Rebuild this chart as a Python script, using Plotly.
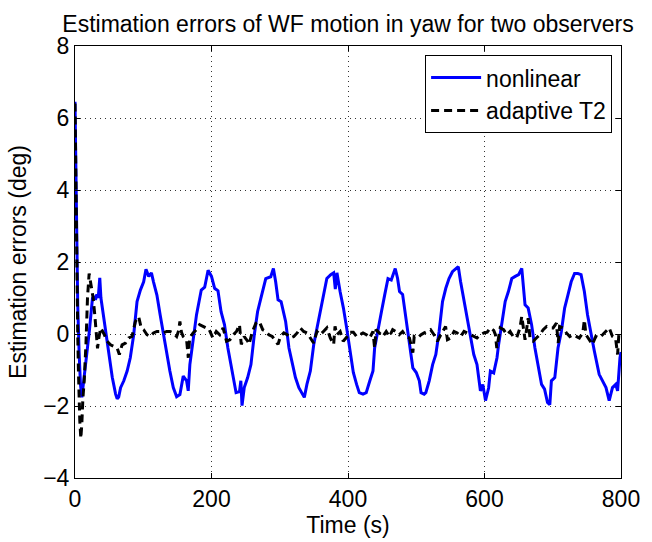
import plotly.graph_objects as go

# ---- data ----
t_nonlinear = [0, 1, 2, 3, 4, 6, 8, 10, 13, 16, 21, 25.6, 28, 30, 32, 34, 36.3, 38, 41, 45,
               50, 54.6, 59.5, 61.8, 64, 66.8, 71.5, 76.4, 81, 86, 90.9, 95.8, 100.6, 104, 108,
               112, 115, 120, 124.8, 129.6, 134.4, 139, 144, 148.9, 153.7, 158.6, 163.5, 165.9,
               168.3, 173, 178, 185, 190, 195, 200, 204.6, 209.5, 214, 219, 224, 228.7, 232.7,
               236, 241, 243, 244.7, 248, 253, 257.8, 262.7, 267.5, 272.3, 279.5, 286.8, 290.7,
               294, 297.5, 302, 308.6, 313.5, 318.3, 323, 328, 332.8, 336, 339.8, 344.8, 349.8,
               354.6, 359.4, 364.3, 369, 374.7, 379, 381.4, 383.8, 388.4, 393.3, 398, 403, 407.8,
               412.6, 416.5, 422, 426.7, 432, 436.6, 439, 444, 449, 453.7, 458.6, 463.4, 466,
               469.2, 472.6, 475.5, 480, 485.2, 490, 495, 500, 504.5, 507, 511.6, 514, 519, 524,
               528.7, 533.5, 538.5, 543.3, 548, 553, 557.8, 561.6, 565, 570, 574.7, 579.5, 584.3,
               589, 594, 597.5, 601.5, 606, 608.6, 613.5, 618.3, 620.7, 625.5, 630.3, 635, 640,
               645, 650, 654.6, 657, 659.4, 664, 669, 673.9, 678.7, 683.6, 688, 692.3, 695.7, 698,
               703, 707.7, 712.6, 717.4, 722.2, 727, 732, 736.7, 741.5, 746.3, 751, 756, 761, 768,
               773, 778, 782.7, 787.5, 792.3, 795, 798.5, 800]
v_nonlinear = [6.45, 4.6, 2.6, 1.5, 0.8, -0.5, -1.4, -1.76, -1.3, -0.85, 0.08, 0.99, 1.05, 0.95,
               1.1, 1.0, 1.56, 1.0, 0.6, 0.07, -0.66, -1.2, -1.67, -1.8, -1.75, -1.49, -1.3, -1.03,
               -0.66, -0.02, 0.9, 1.22, 1.45, 1.8, 1.6, 1.7, 1.45, 1.08, 0.53, -0.02, -0.57, -1.03,
               -1.49, -1.74, -1.68, -1.17, -1.3, -1.58, -0.85, -0.2, 0.53, 1.22, 1.3, 1.77, 1.6,
               1.27, 1.2, 0.62, 0.26, -0.39, -0.85, -1.3, -1.63, -1.6, -1.3, -1.99, -1.49, -1.21,
               -0.85, -0.02, 0.62, 0.99, 1.54, 1.59, 1.82, 1.45, 0.95, 0.9, 0.35, -0.39, -0.85,
               -1.21, -1.49, -1.67, -1.76, -1.4, -1.03, -0.29, 0.17, 0.62, 1.18, 1.54, 1.65, 1.7,
               1.25, 1.7, 1.18, 0.72, 0.17, -0.4, -1.07, -1.4, -1.63, -1.67, -1.63, -1.3, -1.03,
               -0.39, 0.07, 0.62, 1.08, 1.54, 1.5, 1.65, 1.82, 1.55, 1.18, 1.1, 0.35, -0.2, -0.94,
               -1.07, -1.3, -1.63, -1.67, -1.63, -1.3, -0.85, -0.57, 0.07, 0.9, 1.27, 1.54, 1.73,
               1.82, 1.87, 1.45, 0.9, 0.44, -0.02, -0.57, -0.85, -1.58, -1.4, -1.85, -1.5, -1.03,
               -1.08, -0.66, -0.29, 0.26, 0.9, 1.18, 1.54, 1.6, 1.65, 1.82, 1.25, 0.81, 0.72, 0.26,
               -0.39, -0.94, -1.4, -1.53, -1.9, -1.96, -1.3, -1.21, -0.39, 0.07, 0.72, 1.08, 1.45,
               1.68, 1.68, 1.65, 1.18, 0.53, -0.02, -0.48, -1.12, -1.3, -1.49, -1.85, -1.49, -1.4,
               -1.58, -0.66, -0.5]

t_adaptive = [0, 1, 2, 3, 4, 5, 6, 7, 8.5, 10, 11.5, 13.5, 16, 18.3, 20.7, 23, 26.6, 29, 31.4,
              33, 35, 37.7, 42.5, 47, 52, 57, 61.8, 65, 69, 74, 78.6, 83.5, 88.5, 93.3, 97, 100.6,
              105.5, 110, 115, 120, 125, 129.5, 134.4, 139, 144, 149, 152, 153.7, 156, 158.6,
              163.5, 166, 168, 173, 178, 182.6, 187.5, 192, 196, 202, 207, 212, 217, 222, 227,
              232, 236.6, 241, 243.6, 248, 253, 255, 260, 265, 270, 275, 280, 284, 289, 294,
              297.5, 301, 306, 311, 316, 320.6, 325.5, 330, 335, 340, 344.8, 349.6, 354.5, 359.4,
              364, 369, 374, 379, 381, 383.8, 388.5, 393, 398, 403, 407.8, 412.6, 417.5, 422, 427,
              431.7, 436.6, 439, 441, 446, 451, 456, 460.6, 465.5, 470, 475, 480, 485, 490, 495,
              497, 502, 507, 511.6, 516.5, 521, 526, 531, 536, 541, 543, 545.7, 550.6, 555.4, 560,
              565, 570, 574.7, 579.5, 584.3, 589, 594, 599, 604, 608.6, 613.5, 616, 618, 623, 628,
              632.7, 637.5, 642, 647, 652, 654.6, 657, 659.4, 662, 664, 666.6, 671.4, 676, 681,
              686, 691, 695.6, 700.5, 705.4, 708, 710, 715, 720, 725, 730, 734.5, 739, 744, 746.3,
              748.7, 753.5, 758, 763, 768, 773, 778, 782.7, 787.5, 792, 795, 797, 800]
v_adaptive = [6.4, 4.5, 2.5, 1.0, 0.0, -1.0, -1.8, -2.4, -2.9, -2.5, -1.8, -1.3, -0.3, 1.0, 1.68,
              1.45, 1.0, 0.53, -0.11, -0.4, -0.1, 0.17, 0.0, -0.2, -0.3, -0.35, -0.39, -0.57, -0.3,
              -0.25, -0.11, -0.07, 0.35, 0.48, 0.17, 0.12, -0.02, -0.07, 0.03, 0.07, 0.07, 0.03,
              0.07, 0.07, 0.03, -0.07, 0.1, 0.35, 0.05, -0.07, -0.16, -0.66, -0.11, 0.03, 0.12,
              0.26, 0.21, 0.17, 0.15, -0.11, 0.07, -0.02, 0.17, -0.2, -0.16, -0.02, 0.07, 0.26,
              -0.29, -0.07, -0.2, -0.29, 0.07, 0.3, 0.35, 0.12, 0.07, -0.02, -0.07, -0.2, -0.29,
              -0.07, 0.03, -0.02, -0.11, -0.07, 0.03, 0.17, 0.07, 0.03, -0.11, -0.25, 0.07, -0.02,
              0.07, 0.17, -0.11, -0.29, 0.21, -0.02, 0.07, -0.2, -0.09, 0.05, 0.05, -0.07, -0.02,
              0.03, -0.02, -0.11, 0.07, -0.39, 0.12, 0.03, -0.07, 0.07, -0.07, 0.12, 0.07, -0.02,
              0.07, -0.07, -0.11, -0.52, -0.07, -0.11, -0.02, 0.03, 0.07, 0.12, -0.02, -0.2, -0.02,
              0.17, 0.21, -0.16, -0.11, 0.07, 0.03, -0.07, 0.07, 0.03, -0.02, -0.07, -0.11, -0.02,
              0.03, 0.05, 0.17, 0.1, -0.02, -0.39, 0.17, 0.12, -0.02, 0.07, -0.07, -0.11, 0.17,
              0.49, 0.17, -0.16, 0.17, 0.44, -0.11, -0.2, -0.11, -0.02, 0.12, 0.21, 0.17, 0.17,
              0.3, -0.25, 0.21, 0.17, 0.03, -0.07, -0.02, -0.07, -0.11, 0.03, 0.39, -0.02, -0.16,
              -0.29, -0.07, -0.11, -0.02, 0.07, 0.17, -0.07, -0.11, -0.57, 0.03, -0.02]

x_ticks = [0, 200, 400, 600, 800]
y_ticks = [-4, -2, 0, 2, 4, 6, 8]

title_text = "Estimation errors of WF motion in yaw for two observers"
x_title = "Time (s)"
y_title = "Estimation errors (deg)"
names = ["nonlinear", "adaptive T2"]

FONT = "Liberation Sans, Arial, Helvetica, sans-serif"
FS = 23

fig = go.Figure()
fig.add_trace(go.Scatter(x=t_nonlinear, y=v_nonlinear, mode="lines", name=names[0],
                         line=dict(color="#0000ff", width=3)))
fig.add_trace(go.Scatter(x=t_adaptive, y=v_adaptive, mode="lines", name=names[1],
                         line=dict(color="#000000", width=3, dash="8px,5px")))

axis_common = dict(
    showline=True, linecolor="black", linewidth=1, mirror="ticks",
    ticks="inside", ticklen=5, tickcolor="black", tickwidth=1,
    showgrid=True, gridcolor="#333333", gridwidth=1, griddash="1px,4px",
    zeroline=False, tickfont=dict(family=FONT, size=FS, color="black"),
)

fig.update_xaxes(range=[0, 800], tickvals=x_ticks, **axis_common,
                 title=dict(text=x_title, font=dict(family=FONT, size=FS, color="black"), standoff=2))
fig.update_yaxes(range=[-4, 8], tickvals=y_ticks, **axis_common,
                 title=dict(text=y_title, font=dict(family=FONT, size=FS, color="black"), standoff=10))

fig.update_layout(
    width=652, height=542,
    margin=dict(l=75, r=25, t=46, b=60),
    paper_bgcolor="white", plot_bgcolor="white",
    font=dict(family=FONT, size=FS, color="black"),
    title=dict(text=title_text, x=0.5, xref="paper", y=1 - 24 / 542, yref="container",
               xanchor="center", yanchor="middle", font=dict(family=FONT, size=FS, color="black")),
    legend=dict(x=0.9837, y=0.979, xanchor="right", yanchor="top",
                bgcolor="white", bordercolor="black", borderwidth=1,
                font=dict(family=FONT, size=FS, color="black"), itemwidth=50,
                tracegroupgap=0),
    showlegend=True,
)

fig.write_html("out.html")
